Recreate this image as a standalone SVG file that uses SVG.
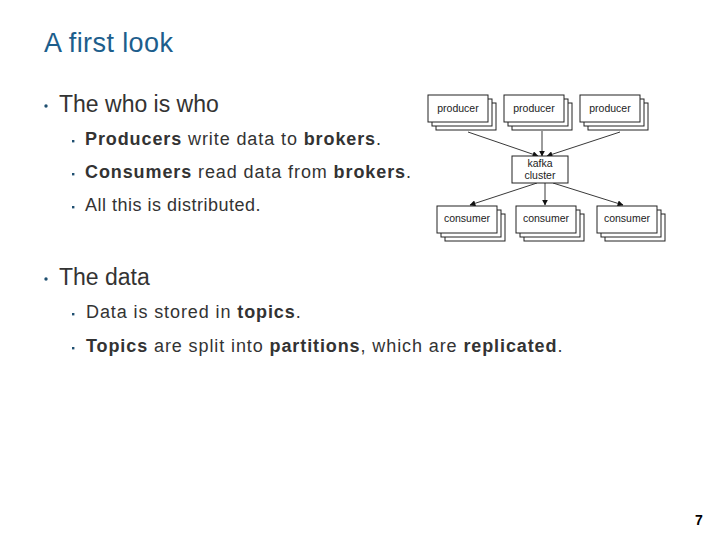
<svg xmlns="http://www.w3.org/2000/svg" width="720" height="540" viewBox="0 0 720 540">
<style>
.t{font-family:"Liberation Sans",Arial,sans-serif;fill:#333}
.title{font-size:27px;fill:#1d5e8c;letter-spacing:0.4px}
.l1{font-size:23px}
.l2{font-size:18px;letter-spacing:0.9px}
.dot{fill:#1f4f70}
.box{fill:#fff;stroke:#222;stroke-width:1}
.lbl{font-family:"Liberation Sans",Arial,sans-serif;font-size:10.5px;fill:#222;text-anchor:middle}
.c{stroke:#222;stroke-width:0.9;fill:none;marker-end:url(#ah)}
</style>
<defs>
<marker id="ah" viewBox="0 0 10 10" refX="9" refY="5" markerWidth="6" markerHeight="6" orient="auto" markerUnits="userSpaceOnUse"><path d="M0,0 L10,5 L0,10 z" fill="#111"/></marker>
<g id="stk"><rect class="box" x="8" y="8" width="60" height="27"/><rect class="box" x="4" y="4" width="60" height="27"/><rect class="box" x="0" y="0" width="60" height="27"/></g>
</defs>
<rect width="720" height="540" fill="#fff"/>
<text class="t title" x="44" y="52">A first look</text>
<circle class="dot" cx="46" cy="106" r="1.7"/>
<text class="t l1" x="59" y="112">The who is who</text>
<rect class="dot" x="72" y="140" width="2.4" height="2.4"/>
<text class="t l2" x="85" y="145"><tspan font-weight="bold">Producers</tspan> write data to <tspan font-weight="bold">brokers</tspan>.</text>
<rect class="dot" x="72" y="173" width="2.4" height="2.4"/>
<text class="t l2" x="85" y="178"><tspan font-weight="bold">Consumers</tspan> read data from <tspan font-weight="bold">brokers</tspan>.</text>
<rect class="dot" x="72" y="206" width="2.4" height="2.4"/>
<text class="t l2" x="85" y="211" style="letter-spacing:0.5px">All this is distributed.</text>
<circle class="dot" cx="46" cy="279" r="1.7"/>
<text class="t l1" x="59" y="285">The data</text>
<rect class="dot" x="72" y="313" width="2.4" height="2.4"/>
<text class="t l2" x="86" y="318">Data is stored in <tspan font-weight="bold">topics</tspan>.</text>
<rect class="dot" x="72" y="347" width="2.4" height="2.4"/>
<text class="t l2" x="86" y="352"><tspan font-weight="bold">Topics</tspan> are split into <tspan font-weight="bold">partitions</tspan>, which are <tspan font-weight="bold">replicated</tspan>.</text>
<text x="695" y="525" style="font-family:'Liberation Sans',Arial,sans-serif;font-size:14px;font-weight:bold;fill:#000">7</text>
<g id="connectors">
<line class="c" x1="468" y1="132" x2="538" y2="156"/>
<line class="c" x1="542" y1="131" x2="542" y2="156"/>
<line class="c" x1="620" y1="132" x2="547" y2="156"/>
<line class="c" x1="537" y1="183" x2="470" y2="205"/>
<line class="c" x1="545" y1="183" x2="545" y2="205"/>
<line class="c" x1="553" y1="183" x2="623" y2="205"/>
</g>
<g id="producer1"><use href="#stk" x="428" y="95"/><text class="lbl" x="458" y="112">producer</text></g>
<g id="producer2"><use href="#stk" x="504" y="95"/><text class="lbl" x="534" y="112">producer</text></g>
<g id="producer3"><use href="#stk" x="580" y="95"/><text class="lbl" x="610" y="112">producer</text></g>
<g id="cluster"><rect class="box" x="512" y="156" width="56" height="27"/><text class="lbl" x="540" y="167">kafka</text><text class="lbl" x="540" y="179">cluster</text></g>
<g id="consumer1"><use href="#stk" x="437" y="206"/><text class="lbl" x="467" y="222">consumer</text></g>
<g id="consumer2"><use href="#stk" x="516" y="206"/><text class="lbl" x="546" y="222">consumer</text></g>
<g id="consumer3"><use href="#stk" x="597" y="206"/><text class="lbl" x="627" y="222">consumer</text></g>
</svg>
